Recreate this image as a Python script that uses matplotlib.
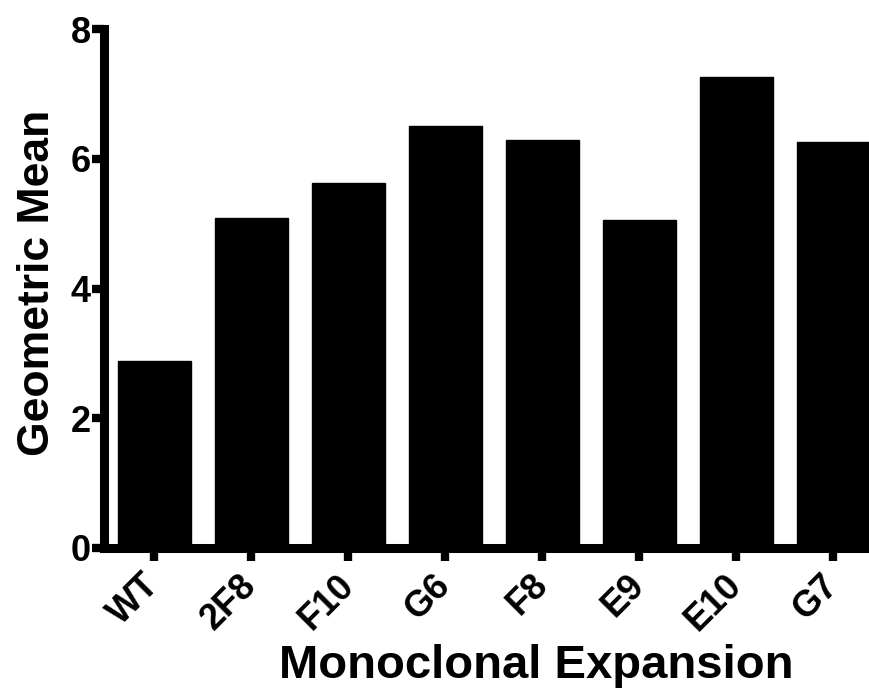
import matplotlib
matplotlib.use("Agg")
import matplotlib.pyplot as plt

clones = ["WT", "2F8", "F10", "G6", "F8", "E9", "E10", "G7"]
geo_mean = [2.89, 5.08, 5.62, 6.50, 6.29, 5.05, 7.26, 6.26]
y_ticks = [0, 2, 4, 6, 8]

plt.rcParams["font.family"] = ["Liberation Sans", "DejaVu Sans"]
plt.rcParams["font.weight"] = "bold"

fig = plt.figure(figsize=(8.7, 6.88), dpi=100)
ax = fig.add_axes([0.1201, 0.2035, 0.8799, 0.7543])

x = range(len(clones))
ax.bar(x, geo_mean, width=0.75, color="black", edgecolor="black", zorder=2)

ax.set_xlim(-0.515, 7.38)
ax.set_ylim(0, 8)
ax.set_yticks(y_ticks)
ax.set_xticks(list(x))
ax.set_xticklabels(clones, rotation=45, ha="right", va="center",
                   rotation_mode="anchor", fontsize=26, fontweight="bold")
ax.set_yticklabels([str(t) for t in y_ticks], fontsize=26, fontweight="bold")

for side in ("top", "right"):
    ax.spines[side].set_visible(False)
for side in ("left", "bottom"):
    ax.spines[side].set_linewidth(6.5)
    ax.spines[side].set_capstyle("projecting")
ax.spines["bottom"].set_zorder(3)

ax.tick_params(axis="both", length=9, width=6, color="black", pad=1)
ax.tick_params(axis="x", pad=14)

ax.set_ylabel("Geometric Mean", fontsize=32, fontweight="bold")
ax.yaxis.set_label_coords(-0.0607, 0.5117)
ax.set_xlabel("Monoclonal Expansion", fontsize=34, fontweight="bold")
ax.xaxis.set_label_coords(0.564, -0.2505)
ax.xaxis.label.set_verticalalignment("baseline")

fig.savefig("out.png", dpi=100)
